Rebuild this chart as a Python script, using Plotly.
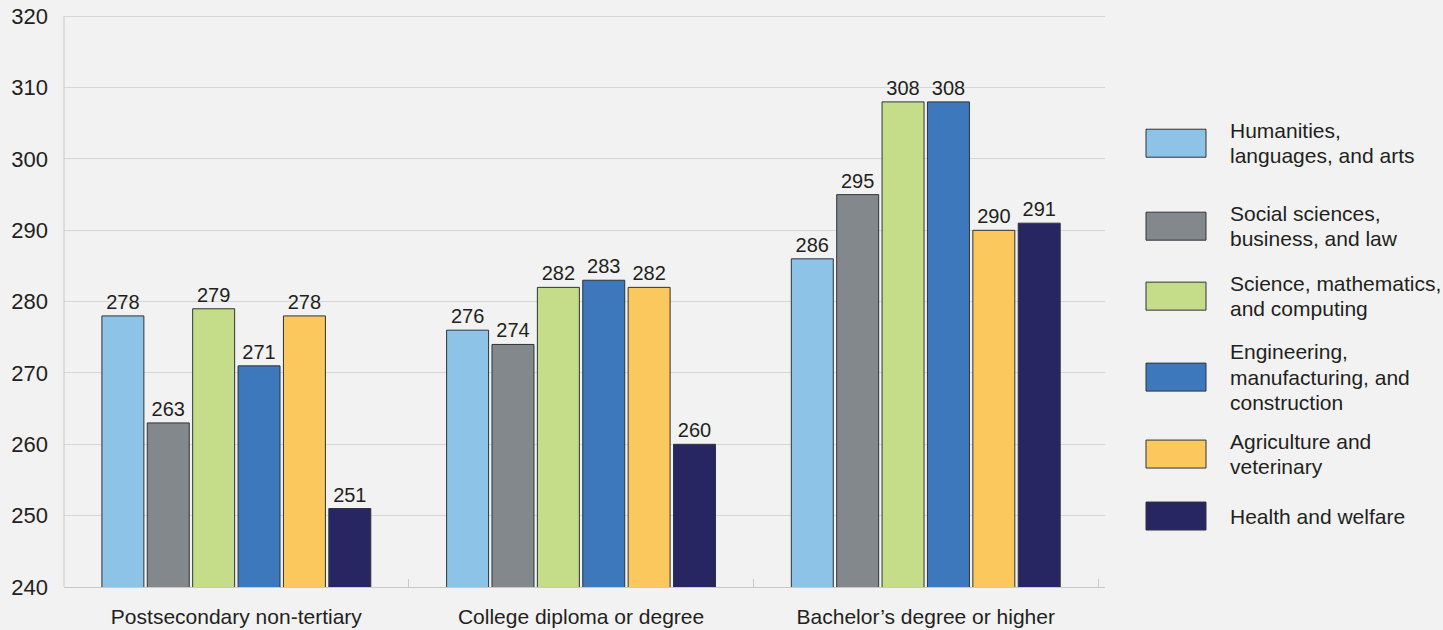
import plotly.graph_objects as go

# Score levels by education attainment and field of study
categories = ["Postsecondary non-tertiary", "College diploma or degree", "Bachelor\u2019s degree or higher"]
fields = [
    "Humanities,<br>languages, and arts",
    "Social sciences,<br>business, and law",
    "Science, mathematics,<br>and computing",
    "Engineering,<br>manufacturing, and<br>construction",
    "Agriculture and<br>veterinary",
    "Health and welfare",
]
humanities = [278, 276, 286]
social = [263, 274, 295]
science = [279, 282, 308]
engineering = [271, 283, 308]
agriculture = [278, 282, 290]
health = [251, 260, 291]
series = [humanities, social, science, engineering, agriculture, health]
colors = ["#8CC3E6", "#83888C", "#C5DD88", "#3D78BC", "#FAC85C", "#282563"]
y_ticks = [240, 250, 260, 270, 280, 290, 300, 310, 320]

FONT = "Liberation Sans, Arial, sans-serif"
TEXT = "#231F20"

fig = go.Figure()
for name, vals, col in zip(fields, series, colors):
    fig.add_trace(go.Bar(
        x=categories, y=vals, name=name.replace("<br>", " "),
        marker=dict(color=col, line=dict(color="#2E3338", width=1)),
        text=[str(v) for v in vals], textposition="outside",
        textfont=dict(family=FONT, size=20, color=TEXT),
        cliponaxis=False, showlegend=False,
    ))

W, H = 1443, 630
Y_MAX = 320.6
L, R, B = 64, 1105, 587
T = 16 - (Y_MAX - 320) * (B - 16) / 80


def px_x(px):
    return (px - L) / (R - L)


def px_y(py):
    return (B - py) / (B - T)


# Hand-built legend: large swatches with stacked labels beside them
centers = [143, 226, 296, 377, 454, 516]
shapes = []
annotations = []
for name, col, cy in zip(fields, colors, centers):
    shapes.append(dict(type="rect", xref="paper", yref="paper",
                       x0=px_x(1146), x1=px_x(1206), y0=px_y(cy + 14), y1=px_y(cy - 14),
                       fillcolor=col, line=dict(color="#2E3338", width=1)))
    lines = name.split("<br>")
    n = len(lines)
    for i, ln in enumerate(lines):
        ly = cy + (i - (n - 1) / 2) * 25.5
        annotations.append(dict(text=ln, xref="paper", yref="paper",
                                x=px_x(1228), y=px_y(ly), xanchor="left", yanchor="middle",
                                showarrow=False, font=dict(family=FONT, size=21, color=TEXT)))

# Axis line along the left edge stops at the top gridline
shapes.append(dict(type="line", xref="paper", yref="y", x0=0, x1=0, y0=240, y1=320,
                   line=dict(color="#C8C8C8", width=1)))

fig.update_layout(
    width=W, height=H,
    margin=dict(l=L, r=W - R, t=T, b=H - B, pad=0, autoexpand=False),
    paper_bgcolor="#F2F2F2", plot_bgcolor="#F2F2F2",
    barmode="group", bargap=0.21, bargroupgap=0.075,
    shapes=shapes, annotations=annotations,
    font=dict(family=FONT, color=TEXT),
)
fig.update_xaxes(
    range=[-0.5, 2.52], showgrid=False, showline=True, linecolor="#C8C8C8", linewidth=1,
    ticks="inside", tickson="boundaries", ticklen=8, tickcolor="#C8C8C8",
    tickfont=dict(family=FONT, size=21, color=TEXT), ticklabelstandoff=11, automargin=False,
)
fig.update_yaxes(
    range=[240, Y_MAX], tickvals=y_ticks, showgrid=True, gridcolor="#D6D6D6", gridwidth=1,
    showline=False, zeroline=False, automargin=False,
    tickfont=dict(family=FONT, size=22, color=TEXT), ticklabelstandoff=15,
)

fig.write_html("out.html")
